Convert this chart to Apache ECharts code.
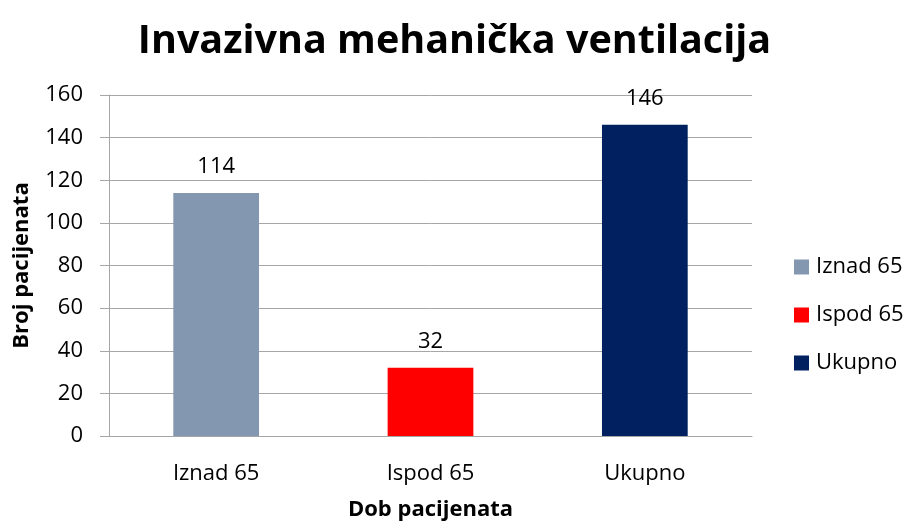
<!DOCTYPE html>
<html>
<head>
<meta charset="utf-8">
<script src="https://cdn.jsdelivr.net/npm/echarts@6/dist/echarts.min.js"></script>
<style>
html,body{margin:0;padding:0;background:#fff;}
#chart{width:909px;height:522px;}
</style>
</head>
<body>
<div id="chart"></div>
<script>
var categories = ['Iznad 65', 'Ispod 65', 'Ukupno'];
var values = [114, 32, 146];
var colors = ['#8497B0', '#FF0000', '#002060'];
var yTicks = [0, 20, 40, 60, 80, 100, 120, 140, 160];

var fontFam = '"Open Sans", "Noto Sans", sans-serif';

// svaki stupac je posebna serija da bi legenda imala tri stavke
var series = [];
for (var i = 0; i < categories.length; i++) {
    var d = [];
    for (var j = 0; j < categories.length; j++) {
        d.push(j == i ? values[i] : '-');
    }
    series.push({
        name: categories[i],
        type: 'bar',
        stack: 'sve',
        barWidth: '40%',
        data: d,
        itemStyle: {color: colors[i]},
        label: {
            show: true,
            position: 'top',
            distance: 15,
            color: '#000',
            fontSize: 22,
            fontFamily: fontFam
        }
    });
}

var mychart = echarts.init(document.getElementById('chart'));
var option = {
    animation: false,
    title: {
        text: 'Invazivna mehanička ventilacija',
        left: 'center',
        top: 17,
        textStyle: {
            fontSize: 39.5,
            fontWeight: 'bold',
            color: '#000',
            fontFamily: fontFam
        }
    },
    legend: {
        orient: 'vertical',
        left: 789,
        top: 251,
        itemWidth: 15,
        itemHeight: 15,
        itemGap: 26,
        icon: 'rect',
        data: categories,
        textStyle: {
            fontSize: 22,
            color: '#000',
            fontFamily: fontFam,
            padding: [0, 0, 0, 2]
        }
    },
    grid: {
        left: 109,
        right: 157,
        top: 95,
        bottom: 86,
        outerBoundsMode: 'none'
    },
    xAxis: {
        type: 'category',
        data: categories,
        name: 'Dob pacijenata',
        nameLocation: 'middle',
        nameGap: 63,
        nameTextStyle: {
            fontSize: 22,
            fontWeight: 'bold',
            color: '#000',
            fontFamily: fontFam
        },
        axisLine: {lineStyle: {color: '#A6A6A6', width: 1}},
        axisTick: {show: false},
        axisLabel: {
            margin: 27,
            fontSize: 22,
            color: '#000',
            fontFamily: fontFam
        }
    },
    yAxis: {
        type: 'value',
        min: yTicks[0],
        max: yTicks[yTicks.length - 1],
        interval: 20,
        name: 'Broj pacijenata',
        nameLocation: 'middle',
        nameGap: 76,
        nameTextStyle: {
            fontSize: 22,
            fontWeight: 'bold',
            color: '#000',
            fontFamily: fontFam
        },
        axisLine: {show: true, lineStyle: {color: '#A6A6A6', width: 1}},
        axisTick: {show: true, length: 9, lineStyle: {color: '#A6A6A6'}},
        splitLine: {lineStyle: {color: '#A6A6A6', width: 1}},
        axisLabel: {
            margin: 26,
            fontSize: 22,
            color: '#000',
            fontFamily: fontFam
        }
    },
    series: series
};
mychart.setOption(option);
</script>
</body>
</html>
